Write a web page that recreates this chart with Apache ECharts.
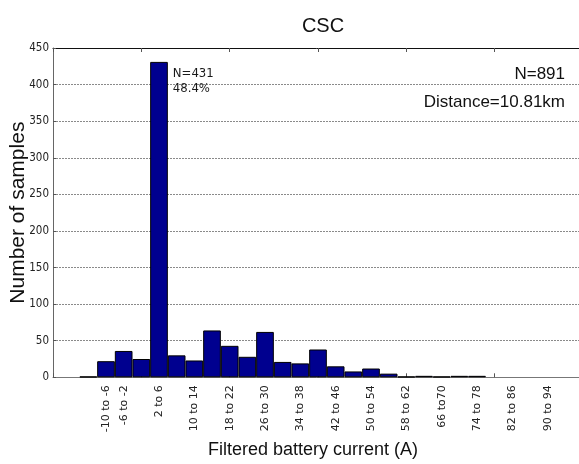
<!DOCTYPE html>
<html>
<head>
<meta charset="utf-8">
<script src="https://cdn.jsdelivr.net/npm/echarts@6/dist/echarts.min.js"></script>
<style>
  html, body { margin: 0; padding: 0; background: #fff; }
  #chart { width: 579px; height: 464px; }
</style>
</head>
<body>
<div id="chart"></div>
<script>
// Histogram bins: bin k covers [-14 + 4k, -10 + 4k] A, plotted at x = k
const binCounts = [1, 22, 36, 25, 431, 30, 23, 64, 43, 28, 62, 21, 19, 38, 15, 8, 12, 5, 1, 2, 1, 2, 2];
// Bins that carry a label on the x axis, and their texts
const labelBins = [1, 2, 4, 6, 8, 10, 12, 14, 16, 18, 20, 22, 24, 26];
const labelTexts = ['-10 to -6', '-6 to -2', '2 to 6', '10 to 14', '18 to 22', '26 to 30', '34 to 38',
                    '42 to 46', '50 to 54', '58 to 62', '66 to70', '74 to 78', '82 to 86', '90 to 94'];
// Frame tick marks on the top and bottom edges
const frameTicks = [-2, 3, 8, 13, 18, 23, 28];
const yTicks = [0, 50, 100, 150, 200, 250, 300, 350, 400, 450];
const distanceKm = 10.81;
const chartTitle = 'CSC';
const xTitle = 'Filtered battery current (A)';
const yTitle = 'Number of samples';

const total = binCounts.reduce((a, b) => a + b, 0);
const peakIdx = binCounts.indexOf(Math.max(...binCounts));

const X_MIN = -2, X_MAX = 28;
const GRID = { left: 53, top: 48, width: 530, height: 329.3, outerBoundsMode: 'none', containLabel: false };
const unitPx = GRID.width / (X_MAX - X_MIN);

const tickFont = "'DejaVu Sans Condensed', 'DejaVu Sans', sans-serif";
const labelFont = "'DejaVu Sans', sans-serif";
const titleFont = "'Liberation Sans', Arial, sans-serif";

const chart = echarts.init(document.getElementById('chart'), null, { renderer: 'canvas' });

const barData = binCounts.map((v, i) => {
  const item = { value: [i, v] };
  if (i === peakIdx) {
    item.label = {
      show: true,
      position: ['100%', 0],
      offset: [5, 4],
      align: 'left',
      verticalAlign: 'top',
      fontFamily: tickFont,
      fontSize: 13,
      lineHeight: 15,
      color: '#1a1a1a',
      formatter: () => 'N=' + v + '\n' + (v / total * 100).toFixed(1) + '%'
    };
  }
  return item;
});

chart.setOption({
  animation: false,
  backgroundColor: '#fff',
  title: {
    text: chartTitle,
    left: 318,
    top: 11,
    textAlign: 'center',
    textStyle: { fontFamily: titleFont, fontSize: 20, fontWeight: 'normal', color: '#111' }
  },
  grid: GRID,
  xAxis: [
    {
      type: 'value',
      position: 'bottom',
      min: X_MIN,
      max: X_MAX,
      name: xTitle,
      nameLocation: 'middle',
      nameGap: 64,
      nameMoveOverlap: false,
      nameTextStyle: { fontFamily: titleFont, fontSize: 18, color: '#111', padding: [0, 10, 0, 0] },
      axisLine: { show: true, onZero: false, lineStyle: { color: '#777', width: 1 } },
      axisTick: { show: true, inside: true, length: 4, customValues: frameTicks, lineStyle: { color: '#555' } },
      axisLabel: {
        show: true,
        customValues: labelBins,
        rotate: 90,
        margin: 8,
        fontFamily: labelFont,
        fontSize: 11,
        color: '#222',
        formatter: (v) => {
          const k = labelBins.indexOf(Math.round(v));
          return k >= 0 ? labelTexts[k] : '';
        }
      },
      splitLine: { show: false }
    },
    {
      type: 'value',
      position: 'top',
      min: X_MIN,
      max: X_MAX,
      axisLine: { show: true, onZero: false, lineStyle: { color: '#111', width: 1 } },
      axisTick: { show: true, inside: true, length: 4, customValues: frameTicks, lineStyle: { color: '#555' } },
      axisLabel: { show: false },
      splitLine: { show: false }
    }
  ],
  yAxis: {
    type: 'value',
    position: 'left',
    min: yTicks[0],
    max: yTicks[yTicks.length - 1],
    interval: yTicks[1] - yTicks[0],
    name: yTitle,
    nameLocation: 'middle',
    nameGap: 24,
    nameMoveOverlap: false,
    nameTextStyle: { fontFamily: titleFont, fontSize: 21, color: '#111' },
    axisLine: { show: true, onZero: false, lineStyle: { color: '#666', width: 1 } },
    axisTick: { show: true, inside: true, length: 3, lineStyle: { color: '#555' } },
    axisLabel: { fontFamily: tickFont, fontSize: 11.5, color: '#222', margin: 4 },
    splitLine: {
      show: true,
      showMinLine: false,
      showMaxLine: false,
      lineStyle: { color: '#8a8a8a', type: [2, 1], width: 1 }
    }
  },
  graphic: [
    {
      type: 'text',
      x: 565, y: 74,
      style: {
        text: 'N=' + total,
        align: 'right', verticalAlign: 'middle',
        font: "17px 'Liberation Sans', Arial, sans-serif",
        fill: '#111'
      }
    },
    {
      type: 'text',
      x: 565, y: 102,
      style: {
        text: 'Distance=' + distanceKm.toFixed(2) + 'km',
        align: 'right', verticalAlign: 'middle',
        font: "17px 'Liberation Sans', Arial, sans-serif",
        fill: '#111'
      }
    }
  ],
  series: [
    {
      type: 'bar',
      xAxisIndex: 0,
      data: barData,
      barWidth: unitPx,
      itemStyle: { color: '#00008f', borderColor: '#000', borderWidth: 1 },
      emphasis: { disabled: true }
    }
  ]
});
</script>
</body>
</html>
